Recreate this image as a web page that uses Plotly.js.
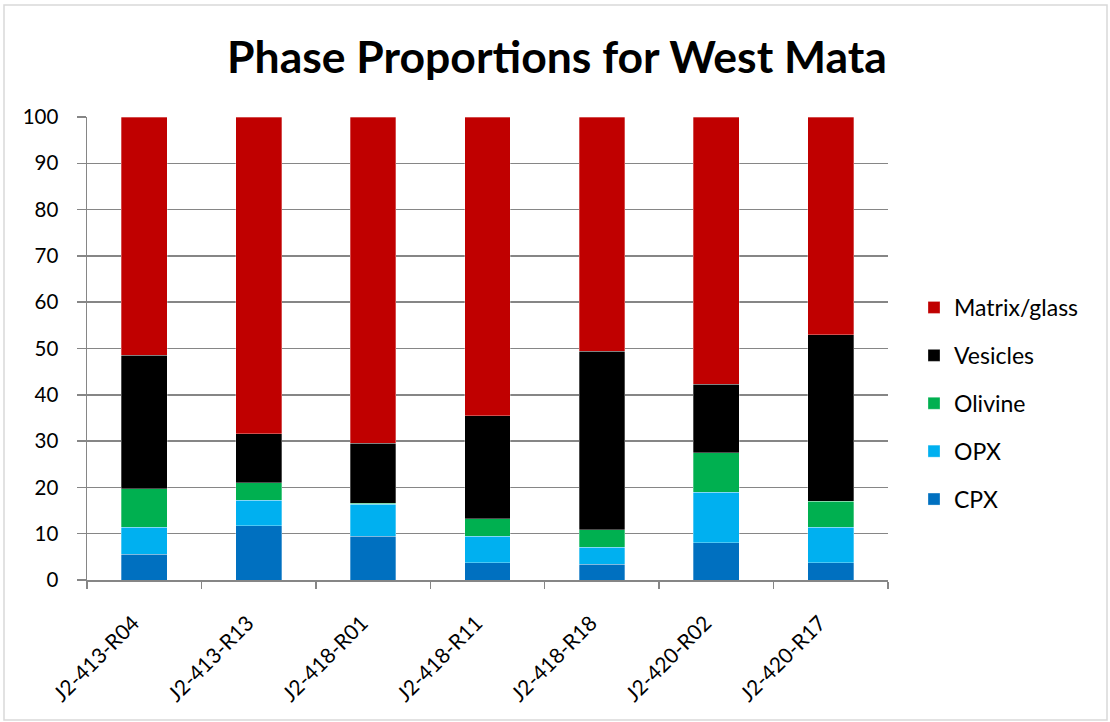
<!DOCTYPE html>
<html>
<head>
<meta charset="utf-8">
<script src="https://cdn.plot.ly/plotly-3.0.1.min.js"></script>
<style>
  html, body { margin: 0; padding: 0; background: #ffffff; }
  #chart { width: 1110px; height: 722px; }
</style>
</head>
<body>
<div id="chart"></div>
<script>
// Samples from West Mata and their phase proportions (%)
const samples = ['J2-413-R04', 'J2-413-R13', 'J2-418-R01', 'J2-418-R11', 'J2-418-R18', 'J2-420-R02', 'J2-420-R17'];
const cpx      = [5.6, 11.7, 9.4, 3.7, 3.4, 8.1, 3.7];
const opx      = [5.8, 5.5, 7.0, 5.7, 3.7, 10.9, 7.7];
const olivine  = [8.3, 3.8, 0.2, 3.8, 3.8, 8.5, 5.6];
const vesicles = [28.8, 10.6, 12.9, 22.3, 38.5, 14.8, 36.0];
const matrix   = [51.5, 68.4, 70.5, 64.5, 50.6, 57.7, 47.0];
const yTicks   = [0, 10, 20, 30, 40, 50, 60, 70, 80, 90, 100];

const FONT = 'Lato, "Open Sans", sans-serif';

function phase(name, values, color, rank) {
  return {
    type: 'bar',
    name: name,
    x: samples,
    y: values,
    legendgroup: name,
    legendrank: rank,
    marker: { color: color, line: { width: 0.6, color: 'rgba(255,255,255,0.5)' } },
    hoverinfo: 'x+y+name'
  };
}

// stacked bottom to top; legend lists top layer first
const traces = [
  phase('CPX', cpx, '#0070C0', 5),
  phase('OPX', opx, '#00B0F0', 4),
  phase('Olivine', olivine, '#00B050', 3),
  phase('Vesicles', vesicles, '#000000', 2),
  phase('Matrix/glass', matrix, '#C00000', 1)
];

// plot area spans x 87..888, y 117..580 in a 1110x722 frame
const L = 87, R = 888, T = 117, B = 580;
const W = 1110, H = 722;
const pw = R - L, ph = B - T;

const layout = {
  width: W,
  height: H,
  margin: { l: L, r: W - R, t: T, b: H - B, pad: 0 },
  paper_bgcolor: '#ffffff',
  plot_bgcolor: '#ffffff',
  barmode: 'stack',
  bargap: 0.6,
  font: { family: FONT, size: 20, color: '#000000' },
  title: {
    text: '<b>Phase Proportions for West Mata</b>',
    font: { family: FONT, size: 44.5, color: '#000000' },
    x: (557 - L) / pw,
    xref: 'paper',
    xanchor: 'center',
    y: 1 - 57 / H,
    yref: 'container',
    yanchor: 'middle'
  },
  xaxis: {
    type: 'category',
    tickson: 'boundaries',
    ticks: 'outside',
    ticklen: 7,
    tickwidth: 1.5,
    tickcolor: '#868686',
    showline: true,
    linecolor: '#868686',
    linewidth: 1.5,
    showgrid: false,
    tickangle: -45,
    ticklabelstandoff: 21,
    ticklabelshift: -11,
    tickfont: { family: FONT, size: 21, color: '#000000' },
    fixedrange: true
  },
  yaxis: {
    range: [0, 100],
    tickvals: yTicks,
    ticks: 'outside',
    ticklen: 9,
    tickwidth: 1.5,
    tickcolor: '#868686',
    showline: true,
    linecolor: '#868686',
    linewidth: 1.5,
    showgrid: true,
    gridcolor: '#868686',
    gridwidth: 1.5,
    zeroline: false,
    ticklabelstandoff: 14,
    tickfont: { family: FONT, size: 20.5, color: '#000000' },
    fixedrange: true
  },
  legend: {
    traceorder: 'grouped',
    tracegroupgap: 15,
    x: (914 - L) / pw,
    xanchor: 'left',
    y: 1 - (286 - T) / ph,
    yanchor: 'top',
    font: { family: FONT, size: 23, color: '#000000' },
    bgcolor: 'rgba(0,0,0,0)',
    itemclick: false,
    itemdoubleclick: false
  },
  shapes: [
    {
      type: 'rect',
      xref: 'paper', yref: 'paper',
      x0: (4 - L) / pw, x1: (1107 - L) / pw,
      y0: (B - 720) / ph, y1: (B - 5) / ph,
      line: { color: '#d9d9d9', width: 1.5 },
      fillcolor: 'rgba(0,0,0,0)',
      layer: 'below'
    }
  ]
};

Plotly.newPlot('chart', traces, layout, { displayModeBar: false, staticPlot: true });
</script>
</body>
</html>
